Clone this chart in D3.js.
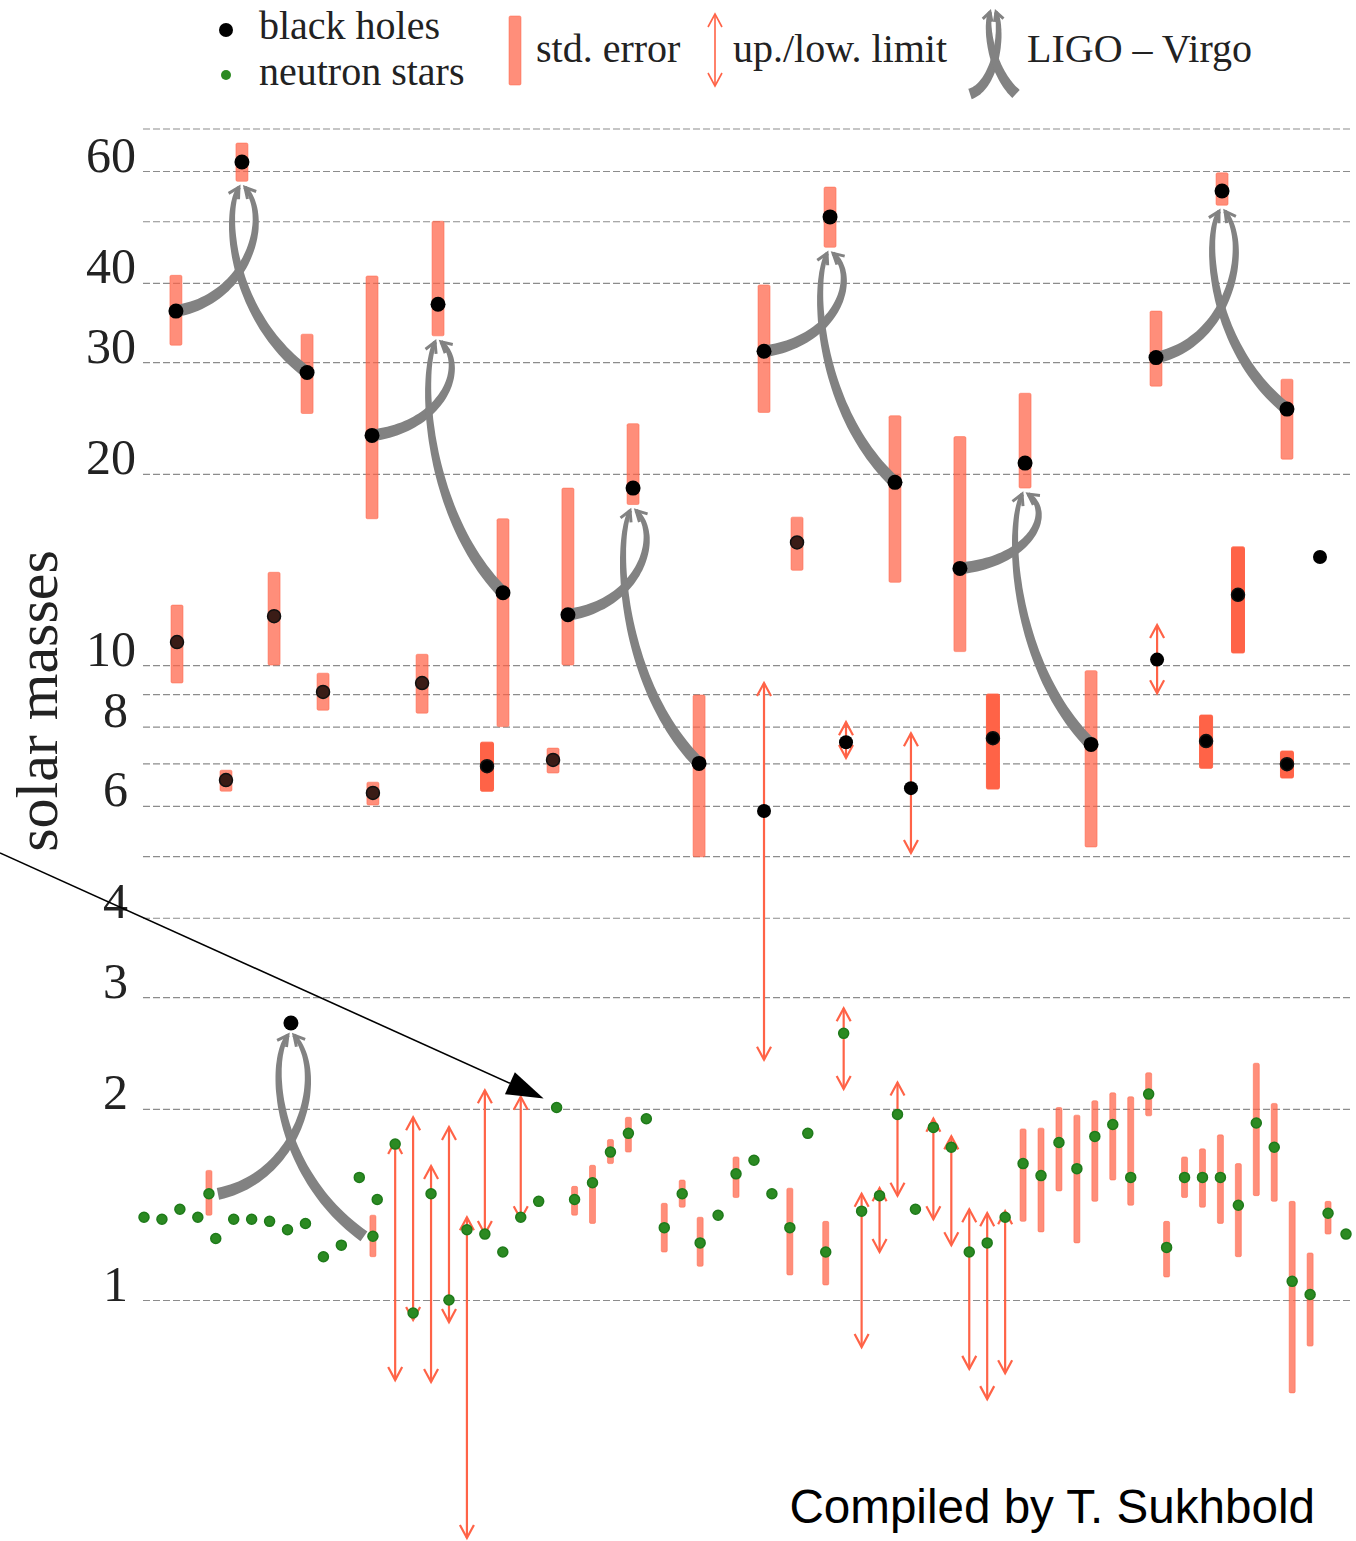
<!DOCTYPE html>
<html>
<head>
<meta charset="utf-8">
<script src="https://cdn.jsdelivr.net/npm/d3@7"></script>
<style>
  body { margin: 0; background: #fff; }
  svg { display: block; }
</style>
</head>
<body>
<div id="chart"></div>
<script>
// ---- data ----
const gridMasses = [1, 2, 3, 4, 5, 6, 7, 8, 9, 10, 20, 30, 40, 50, 60, 70];
const tickLabels = [1, 2, 3, 4, 6, 8, 10, 20, 30, 40, 60];

// neutron star masses, one per slot (0..67)
const nsMass = [
  1.35, 1.34, 1.39, 1.35, 1.25, 1.34, 1.34, 1.33, 1.29, 1.32,
  1.17, 1.22, 1.56, 1.44, 1.76, 0.954, 1.47, 1.00, 1.29, 1.27,
  1.19, 1.35, 1.43, 2.01, 1.44, 1.53, 1.71, 1.83, 1.93, 1.30,
  1.47, 1.23, 1.36, 1.58, 1.66, 1.47, 1.30, 1.83, 1.19, 2.63,
  1.38, 1.46, 1.96, 1.39, 1.87, 1.74, 1.19, 1.23, 1.35, 1.64,
  1.57, 1.77, 1.61, 1.81, 1.89, 1.56, 2.11, 1.21, 1.56, 1.56,
  1.56, 1.41, 1.90, 1.74, 1.07, 1.02, 1.37, 1.27
];
// [slot, low, high]
const nsErrors = [
  [24, 1.36, 1.51], [25, 1.32, 1.63], [26, 1.64, 1.79], [27, 1.71, 1.94],
  [29, 1.19, 1.42], [30, 1.40, 1.545], [31, 1.13, 1.35], [33, 1.45, 1.68],
  [35, 1.45, 1.49], [36, 1.095, 1.50], [38, 1.056, 1.33], [49, 1.33, 1.86],
  [50, 1.28, 1.865], [51, 1.485, 2.01], [52, 1.23, 1.955], [53, 1.43, 2.06],
  [54, 1.545, 2.12], [55, 1.41, 2.09], [56, 1.95, 2.28], [57, 1.087, 1.33],
  [58, 1.45, 1.68], [59, 1.40, 1.73], [60, 1.32, 1.82], [61, 1.17, 1.64],
  [62, 1.46, 2.36], [63, 1.43, 2.04], [64, 0.714, 1.43], [65, 0.846, 1.186],
  [66, 1.27, 1.43]
];
const nsLimits = [
  [14, 0.748, 1.78], [15, 0.93, 1.94], [16, 0.743, 1.626], [17, 0.923, 1.873],
  [18, 0.422, 1.35], [19, 1.27, 2.14], [21, 1.34, 2.09], [39, 2.15, 2.88],
  [40, 0.843, 1.47], [41, 1.19, 1.50], [42, 1.46, 2.20], [44, 1.34, 1.93],
  [45, 1.22, 1.81], [46, 0.779, 1.39], [47, 0.698, 1.37], [48, 0.767, 1.38]
];

// black holes with std. error
const bhErrors = [
  [1.84, 10.87, 9.37, 12.43], [4.57, 6.59, 6.33, 6.83], [7.25, 11.94, 10.0, 14.0],
  [9.98, 9.07, 8.49, 9.71], [12.76, 6.29, 6.02, 6.54], [15.50, 9.37, 8.40, 10.4],
  [19.12, 6.93, 6.33, 7.56], [22.80, 7.09, 6.76, 7.40], [36.40, 15.6, 14.1, 17.1],
  [47.32, 7.67, 6.38, 9.0], [59.20, 7.59, 6.88, 8.34], [60.98, 12.9, 10.45, 15.35],
  [63.71, 6.98, 6.64, 7.32]
];
// black holes with up./low. limits
const bhLimits = [
  [34.56, 5.89, 2.39, 9.37], [39.13, 7.56, 7.14, 8.13],
  [42.75, 6.40, 5.06, 7.81], [56.47, 10.2, 9.03, 11.56]
];
const bhPlain = [[65.55, 14.8]];

// LIGO - Virgo mergers: primary, secondary, remnant [slot, mass, low, high]
const ligoPrimary = [
  [1.78, 36.1, 31.9, 41.1], [12.71, 23.0, 17.0, 41.0], [23.63, 12.0, 10.0, 19.0],
  [34.56, 31.2, 25.0, 39.7], [45.48, 14.2, 10.5, 22.9], [56.41, 30.5, 27.5, 36.1],
  [3.62, 1.47, 1.36, 1.60]
];
const ligoSecondary = [
  [9.09, 28.9, 24.9, 33.2], [20.01, 13.0, 8.0, 17.0], [30.94, 7.0, 4.99, 8.97],
  [41.86, 19.4, 13.5, 24.7], [52.79, 7.5, 5.17, 9.8], [63.71, 25.3, 21.1, 28.2],
  [12.76, 1.26, 1.17, 1.36]
];
const ligoRemnant = [
  [5.46, 62.0, 57.8, 66.4], [16.39, 37.0, 33.0, 50.0], [27.26, 19.0, 17.9, 24.0],
  [38.24, 50.8, 45.5, 56.6], [49.11, 20.8, 19.0, 26.8], [60.09, 55.8, 53.0, 59.6],
  [8.19, 2.73, null, null]
];
const ligoIsNS = [false, false, false, false, false, false, true];

// annotation pointer: from [slot, mass] to neutron star slot
const pointerFrom = [-8.03, 5.06];
const pointerTo = 23;

// ---- drawing ----
const W = 1356, H = 1541;
const RED = "#ff6347", GREEN = "#2b8a22", GRAY = "#828282";
const SERIF = "'Liberation Serif', 'DejaVu Serif', serif";

const svg = d3.select("#chart").append("svg").attr("width", W).attr("height", H);

const x = d3.scaleLinear().domain([0, 67]).range([144, 1346]);
const y = d3.scaleLog().domain([1, 60]).range([1300, 171]);

// dashed grid
const grid = svg.append("g")
  .attr("transform", "translate(143,0)")
  .call(d3.axisRight(y).tickValues(gridMasses).tickSize(1209).tickFormat(""));
grid.select(".domain").remove();
grid.selectAll("line")
  .attr("stroke", "#8c8c8c").attr("stroke-width", 1.2).attr("stroke-dasharray", "7,3");

// tick labels
const yAxis = svg.append("g")
  .attr("transform", "translate(136,0)")
  .call(d3.axisLeft(y).tickValues(tickLabels).tickSize(0).tickPadding(0).tickFormat(d3.format("d")));
yAxis.select(".domain").remove();
yAxis.selectAll("text")
  .attr("dy", 0)
  .attr("dx", d => d < 10 ? -8 : 0)
  .attr("font-family", SERIF).attr("font-size", 50).attr("fill", "#222");

svg.append("text")
  .attr("transform", "translate(57,701) rotate(-90)")
  .attr("text-anchor", "middle")
  .attr("font-family", SERIF).attr("font-size", 60).attr("fill", "#222")
  .text("solar masses");

function errBar(g, cx, lo, hi, w, solid) {
  g.append("rect")
    .attr("x", cx - w / 2).attr("width", w)
    .attr("y", y(hi)).attr("height", y(lo) - y(hi))
    .attr("rx", 1.5)
    .attr("fill", RED).attr("fill-opacity", solid ? 1 : 0.72)
    .attr("stroke", RED).attr("stroke-opacity", solid ? 1 : 0.5).attr("stroke-width", 1);
}

function limitArrow(g, cx, top, bot, sw) {
  const hw = 7, hl = 13;
  g.append("line").attr("x1", cx).attr("x2", cx).attr("y1", top).attr("y2", bot)
    .attr("stroke", RED).attr("stroke-width", sw);
  g.append("path").attr("d", `M${cx - hw},${top + hl}L${cx},${top}L${cx + hw},${top + hl}`)
    .attr("fill", "none").attr("stroke", RED).attr("stroke-width", sw);
  g.append("path").attr("d", `M${cx - hw},${bot - hl}L${cx},${bot}L${cx + hw},${bot - hl}`)
    .attr("fill", "none").attr("stroke", RED).attr("stroke-width", sw);
}

function bez(p, t) {
  const mt = 1 - t;
  return [
    mt * mt * mt * p[0][0] + 3 * mt * mt * t * p[1][0] + 3 * mt * t * t * p[2][0] + t * t * t * p[3][0],
    mt * mt * mt * p[0][1] + 3 * mt * mt * t * p[1][1] + 3 * mt * t * t * p[2][1] + t * t * t * p[3][1]
  ];
}
function bezD(p, t) {
  const mt = 1 - t;
  return [0, 1].map(k => 3 * mt * mt * (p[1][k] - p[0][k]) + 6 * mt * t * (p[2][k] - p[1][k]) + 3 * t * t * (p[3][k] - p[2][k]));
}

// tapered grey arrow along a cubic curve
function ligoCurve(g, p, w0, w1, head) {
  const n = 50, L = [], R = [];
  for (let i = 0; i <= n; i++) {
    const t = i / n;
    const [px, py] = bez(p, t);
    const [dx, dy] = bezD(p, t);
    const len = Math.hypot(dx, dy) || 1;
    const w = (w0 + (w1 - w0) * t) / 2;
    L.push([px - dy / len * w, py + dx / len * w]);
    R.push([px + dy / len * w, py - dx / len * w]);
  }
  const pts = L.concat(R.reverse());
  g.append("path").attr("d", "M" + pts.map(q => q[0].toFixed(1) + "," + q[1].toFixed(1)).join("L") + "Z")
    .attr("fill", GRAY);
  const [dx, dy] = bezD(p, 1);
  const a = Math.atan2(dy, dx), tip = p[3];
  const arm = a2 => [tip[0] - head * Math.cos(a2), tip[1] - head * Math.sin(a2)];
  const l1 = arm(a + 0.5), l2 = arm(a - 0.5);
  g.append("path").attr("d", `M${l1}L${tip}L${l2}`)
    .attr("fill", "none").attr("stroke", GRAY).attr("stroke-width", 3).attr("stroke-linejoin", "miter");
}

function mergerCurves(g, xp, yp, xs, ys, xr, ye, w0, w1, head, off) {
  const dx = xr - xp, h = yp - ye;
  ligoCurve(g, [[xp + off, yp], [xr + 0.1 * dx, yp - 0.1 * h], [xr + 0.45 * dx, ye + 0.25 * h], [xr + 3, ye]], w0, w1, head);
  const dx2 = xs - xr, h2 = ys - ye;
  ligoCurve(g, [[xs - off, ys], [xr - 0.15 * dx2, ys - 0.3 * h2], [xr - 0.3 * dx2, ye + 0.15 * h2], [xr - 3, ye]], w0, w1, head);
}

// bars, arrows and curves
const barsG = svg.append("g");
const curvesG = svg.append("g");
const dotsG = svg.append("g");

nsErrors.forEach(([s, lo, hi]) => errBar(barsG, x(s), lo, hi, 6, false));
nsLimits.forEach(([s, lo, hi]) => limitArrow(barsG, x(s), y(hi), y(lo), 2.2));

const solidSlots = new Set([19.12, 47.32, 59.20, 60.98, 63.71]);
bhErrors.forEach(([s, m, lo, hi]) => errBar(barsG, x(s), lo, hi, solidSlots.has(s) ? 13 : 12, solidSlots.has(s)));
bhLimits.forEach(([s, m, lo, hi]) => limitArrow(barsG, x(s), y(hi), y(lo), 2.2));

ligoPrimary.forEach((pr, i) => {
  const se = ligoSecondary[i], re = ligoRemnant[i], ns = ligoIsNS[i];
  const w = ns ? 6 : 12;
  errBar(barsG, x(pr[0]), pr[2], pr[3], w, false);
  errBar(barsG, x(se[0]), se[2], se[3], w, false);
  if (re[2] != null) errBar(barsG, x(re[0]), re[2], re[3], 12, false);
  const ye = re[2] != null ? y(re[2]) + 6 : y(re[1]) + 12;
  mergerCurves(curvesG, x(pr[0]), y(pr[1]), x(se[0]), y(se[1]), x(re[0]), ye, 12, 4, 12, ns ? 9 : 0);
});

// dots
dotsG.selectAll(".ns").data(nsMass).join("circle")
  .attr("cx", (d, i) => x(i)).attr("cy", d => y(d)).attr("r", 5)
  .attr("fill", GREEN).attr("stroke", "#1e7a1a").attr("stroke-width", 1.5);

dotsG.selectAll(".bhe").data(bhErrors).join("circle")
  .attr("cx", d => x(d[0])).attr("cy", d => y(d[1])).attr("r", 6.5)
  .attr("fill", d => solidSlots.has(d[0]) ? "#000" : "#3a1c16")
  .attr("stroke", "#111").attr("stroke-width", 1.5);
dotsG.selectAll(".bhl").data(bhLimits.concat(bhPlain)).join("circle")
  .attr("cx", d => x(d[0])).attr("cy", d => y(d[1])).attr("r", 7).attr("fill", "#000");

ligoPrimary.forEach((pr, i) => {
  const se = ligoSecondary[i], re = ligoRemnant[i];
  if (ligoIsNS[i]) {
    [pr, se].forEach(d => dotsG.append("circle").attr("cx", x(d[0])).attr("cy", y(d[1])).attr("r", 5)
      .attr("fill", GREEN).attr("stroke", "#1e7a1a").attr("stroke-width", 1.5));
  } else {
    [pr, se].forEach(d => dotsG.append("circle").attr("cx", x(d[0])).attr("cy", y(d[1])).attr("r", 7.5).attr("fill", "#000"));
  }
  dotsG.append("circle").attr("cx", x(re[0])).attr("cy", y(re[1])).attr("r", 7.5).attr("fill", "#000");
});

// annotation pointer
{
  const x0 = x(pointerFrom[0]), y0 = y(pointerFrom[1]);
  const tx = x(pointerTo) - 13, ty = y(nsMass[pointerTo]) - 9;
  const a = Math.atan2(ty - y0, tx - x0), hl = 37, hw = 12;
  const bx = tx - hl * Math.cos(a), by = ty - hl * Math.sin(a);
  svg.append("line").attr("x1", x0).attr("y1", y0).attr("x2", bx).attr("y2", by)
    .attr("stroke", "#000").attr("stroke-width", 1.6);
  svg.append("path")
    .attr("d", `M${tx},${ty}L${bx - hw * Math.sin(a)},${by + hw * Math.cos(a)}L${bx + hw * Math.sin(a)},${by - hw * Math.cos(a)}Z`)
    .attr("fill", "#000");
}

// legend
const lg = svg.append("g").attr("font-family", SERIF).attr("font-size", 40).attr("fill", "#222");
lg.append("circle").attr("cx", 226).attr("cy", 30).attr("r", 7).attr("fill", "#000");
lg.append("text").attr("x", 259).attr("y", 39).text("black holes");
lg.append("circle").attr("cx", 226).attr("cy", 75).attr("r", 5).attr("fill", GREEN);
lg.append("text").attr("x", 259).attr("y", 85).text("neutron stars");
lg.append("rect").attr("x", 509).attr("y", 16).attr("width", 12).attr("height", 69).attr("rx", 1.5)
  .attr("fill", RED).attr("fill-opacity", 0.72).attr("stroke", RED).attr("stroke-opacity", 0.5);
lg.append("text").attr("x", 536).attr("y", 62).text("std. error");
limitArrow(lg, 715, 14, 86, 1.6);
lg.append("text").attr("x", 733).attr("y", 62).text("up./low. limit");
mergerCurves(lg, 970, 94, 1016, 94, 993, 12, 11, 4, 10, 0);
lg.append("text").attr("x", 1027).attr("y", 62).text("LIGO \u2013 Virgo");

svg.append("text")
  .attr("x", 1315).attr("y", 1523).attr("text-anchor", "end")
  .attr("font-family", "'Liberation Sans', Arial, sans-serif").attr("font-size", 47.6).attr("fill", "#000")
  .text("Compiled by T. Sukhbold");
</script>
</body>
</html>
